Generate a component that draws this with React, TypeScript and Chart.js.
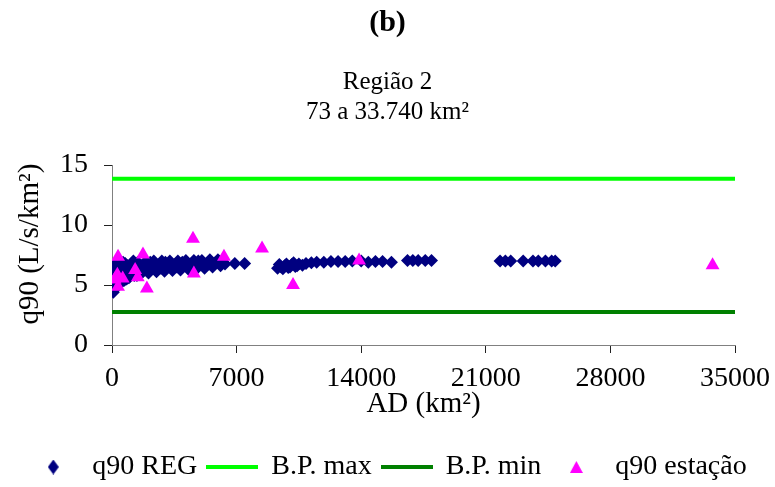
import React, { useEffect, useRef } from 'react';
import { Chart, registerables } from 'chart.js';

Chart.register(...registerables);

// ---- data ----
const titleText = '(b)';
const subtitleLines = ['Região 2', '73 a 33.740 km²'];
const xAxisTitle = 'AD (km²)';
const yAxisTitle = '   q90 (L/s/km²)';
const seriesNames = ['q90 REG', 'B.P. max', 'B.P. min', 'q90 estação'];

const xTicks = [0, 7000, 14000, 21000, 28000, 35000];
const yTicks = [0, 5, 10, 15];

// q90 REG (regionalized)
const regAD = [
  73, 90, 110, 130, 150, 180, 210, 240, 280, 320, 360, 400, 450, 500, 560, 620,
  700, 780, 860, 950, 1050, 1150, 1250, 1350, 1450, 1600, 1750, 1900, 2050, 2200,
  2350, 2500, 2650, 2800, 2950, 3100, 3250, 3400, 3550, 3700, 3850, 4000, 4150,
  4300, 4450, 4600, 4750, 4900, 5050, 5200, 5350, 5500, 5650, 5800, 5950, 6100,
  6250, 6900, 7450,
  95, 120, 200, 260, 300, 380, 430, 520, 600, 660, 740, 820, 900, 1000, 1100,
  1200, 1300, 1400, 1500, 1700, 1850, 2000, 2150, 2400, 2750, 3000, 3300, 3650,
  3950, 4200, 4550, 4850, 5150, 5450, 5750, 6050, 6350,
  9300, 9500, 9700, 9900, 10100, 10300, 10500, 10700, 10900, 11200, 11500, 11900,
  12300, 12700, 13100, 13500, 14000, 14400, 14800, 15200, 15700,
  9400, 9600, 9800, 10000, 10200, 10400,
  16600, 16900, 17200, 17600, 17950,
  21800, 22100, 22400, 23100, 23650, 23950, 24350, 24700, 24900,
];
const regQ = [
  4.4, 5.0, 5.6, 6.2, 4.7, 5.3, 5.9, 6.4, 4.9, 5.5, 6.1, 6.6, 5.2, 5.8, 6.4, 6.9,
  5.4, 6.0, 6.6, 5.6, 6.2, 6.8, 5.8, 6.4, 6.9, 5.9, 6.5, 6.95, 6.0, 6.6,
  7.0, 6.1, 6.6, 7.0, 6.15, 6.65, 7.0, 6.2, 6.7, 7.0, 6.25, 6.7, 7.05,
  6.3, 6.75, 7.05, 6.35, 6.8, 7.05, 6.4, 6.8, 7.1, 6.5, 6.85, 7.1, 6.6,
  6.9, 6.8, 6.8,
  6.6, 4.6, 6.7, 5.2, 6.0, 5.0, 6.0, 6.7, 5.4, 6.1, 6.8, 5.5, 6.3, 5.7, 6.5,
  7.0, 6.1, 5.8, 6.6, 6.1, 6.7, 6.3, 6.9, 6.4, 6.4, 6.9, 6.5, 6.5,
  6.9, 6.6, 6.6, 7.0, 6.7, 6.75, 6.7, 6.95, 6.75,
  6.4, 6.5, 6.6, 6.45, 6.7, 6.55, 6.75, 6.65, 6.8, 6.85, 6.9, 6.9,
  6.95, 6.95, 6.95, 7.0, 7.0, 6.9, 6.95, 6.95, 6.9,
  6.7, 6.35, 6.75, 6.5, 6.85, 6.6,
  7.05, 7.05, 7.05, 7.05, 7.05,
  7.0, 7.0, 7.0, 7.0, 7.0, 7.0, 7.0, 7.0, 7.0,
];

// q90 estação (gauged stations)
const staAD = [340, 1740, 4550, 6290, 8430, 13880, 33740, 4600, 1960, 10170, 300, 150, 600, 340, 1300, 1450];
const staQ = [7.35, 7.55, 8.85, 7.35, 8.05, 7.05, 6.65, 5.95, 4.7, 5.0, 5.85, 5.45, 5.55, 4.85, 6.25, 5.65];

// band limits
const bpAD = [0, 35000];
const bpMaxQ = [13.85, 13.85];
const bpMinQ = [2.75, 2.75];

const FONT = '"Liberation Serif", "Times New Roman", serif';
const NAVY = '#000080';
const MAGENTA = '#FF00FF';
const LIME = '#00FF00';
const DKGREEN = '#008000';

function makeIcon(kind: string): HTMLCanvasElement {
  const c = document.createElement('canvas');
  const ctx = c.getContext('2d')!;
  if (kind === 'diamond') {
    c.width = 11; c.height = 15;
    ctx.fillStyle = NAVY;
    ctx.beginPath();
    ctx.moveTo(5.5, 0); ctx.lineTo(11, 7.5); ctx.lineTo(5.5, 15); ctx.lineTo(0, 7.5);
    ctx.closePath(); ctx.fill();
  } else if (kind === 'triangle') {
    c.width = 13; c.height = 12;
    ctx.fillStyle = MAGENTA;
    ctx.beginPath();
    ctx.moveTo(6.5, 0); ctx.lineTo(13, 12); ctx.lineTo(0, 12);
    ctx.closePath(); ctx.fill();
  } else {
    c.width = 52; c.height = 4;
    ctx.fillStyle = kind === 'lime' ? LIME : DKGREEN;
    ctx.fillRect(0, 0, 52, 4);
  }
  return c;
}

export default function App() {
  const ref = useRef<HTMLCanvasElement | null>(null);

  useEffect(() => {
    if (!ref.current) return;
    const icons = [makeIcon('diamond'), makeIcon('lime'), makeIcon('dark'), makeIcon('triangle')];

    const chart = new Chart(ref.current, {
      type: 'scatter',
      data: {
        datasets: [
          {
            label: seriesNames[0],
            data: regAD.map((x, i) => ({ x, y: regQ[i] })),
            pointStyle: 'rectRot',
            pointRadius: 6.5,
            backgroundColor: NAVY,
            borderColor: NAVY,
            borderWidth: 0,
            order: 2,
          },
          {
            label: seriesNames[1],
            type: 'line',
            data: bpAD.map((x, i) => ({ x, y: bpMaxQ[i] })),
            borderColor: LIME,
            backgroundColor: LIME,
            borderWidth: 4,
            borderCapStyle: 'round',
            pointRadius: 0,
            showLine: true,
            order: 3,
          },
          {
            label: seriesNames[2],
            type: 'line',
            data: bpAD.map((x, i) => ({ x, y: bpMinQ[i] })),
            borderColor: DKGREEN,
            backgroundColor: DKGREEN,
            borderWidth: 4,
            borderCapStyle: 'round',
            pointRadius: 0,
            showLine: true,
            order: 3,
          },
          {
            label: seriesNames[3],
            data: staAD.map((x, i) => ({ x, y: staQ[i] })),
            pointStyle: 'triangle',
            pointRadius: 8,
            backgroundColor: MAGENTA,
            borderColor: MAGENTA,
            borderWidth: 0,
            order: 1,
          },
        ],
      },
      options: {
        animation: false,
        responsive: true,
        maintainAspectRatio: false,
        layout: { padding: { left: 0, right: 0, top: 0, bottom: -4 } },
        plugins: {
          tooltip: { enabled: false },
          title: {
            display: true,
            text: titleText,
            color: '#000',
            font: { family: FONT, size: 30, weight: 'bold', lineHeight: 1.2 },
            padding: { top: 5, bottom: 12 },
          },
          subtitle: {
            display: true,
            text: subtitleLines,
            color: '#000',
            font: { family: FONT, size: 25, weight: 'normal', lineHeight: 1.2 },
            padding: { top: 14, bottom: 38 },
          },
          legend: {
            display: true,
            position: 'bottom',
            labels: {
              usePointStyle: true,
              pointStyleWidth: 50,
              padding: 10,
              color: '#000',
              font: { family: FONT, size: 28 },
              generateLabels: (ch: any) => {
                const items = Chart.defaults.plugins.legend.labels.generateLabels(ch);
                return items
                  .sort((a: any, b: any) => a.datasetIndex - b.datasetIndex)
                  .map((it: any) => ({ ...it, pointStyle: icons[it.datasetIndex] }));
              },
            },
          },
        },
        scales: {
          x: {
            type: 'linear',
            min: xTicks[0],
            max: xTicks[xTicks.length - 1],
            afterBuildTicks: (s: any) => { s.ticks = xTicks.map((v) => ({ value: v })); },
            afterFit: (s: any) => { s.height = 98; s.paddingRight = 40; },
            grid: { drawOnChartArea: false, drawTicks: true, tickLength: 8, color: '#222' },
            border: { display: true, color: '#808080', width: 1 },
            ticks: {
              color: '#000',
              padding: 9,
              maxRotation: 0,
              font: { family: FONT, size: 28, lineHeight: 1.2 },
              callback: (v: any) => String(v),
            },
            title: {
              display: true,
              text: xAxisTitle,
              color: '#000',
              font: { family: FONT, size: 29, lineHeight: 1.2 },
              padding: { top: 0, bottom: 21 },
            },
          },
          y: {
            type: 'linear',
            min: yTicks[0],
            max: yTicks[yTicks.length - 1],
            afterBuildTicks: (s: any) => { s.ticks = yTicks.map((v) => ({ value: v })); },
            afterFit: (s: any) => { s.width = 112; },
            grid: { drawOnChartArea: false, drawTicks: true, tickLength: 8, color: '#222' },
            border: { display: true, color: '#808080', width: 1 },
            ticks: {
              color: '#000',
              padding: 16,
              font: { family: FONT, size: 28, lineHeight: 1.2 },
              callback: (v: any) => String(v),
            },
            title: {
              display: true,
              text: yAxisTitle,
              color: '#000',
              font: { family: FONT, size: 29, lineHeight: 1.2 },
              padding: { top: 13, bottom: 0 },
            },
          },
        },
      },
    } as any);

    return () => chart.destroy();
  }, []);

  return (
    <div style={{ position: 'fixed', left: 0, top: 0, width: 775, height: 487, background: '#fff' }}>
      <canvas ref={ref} />
    </div>
  );
}
